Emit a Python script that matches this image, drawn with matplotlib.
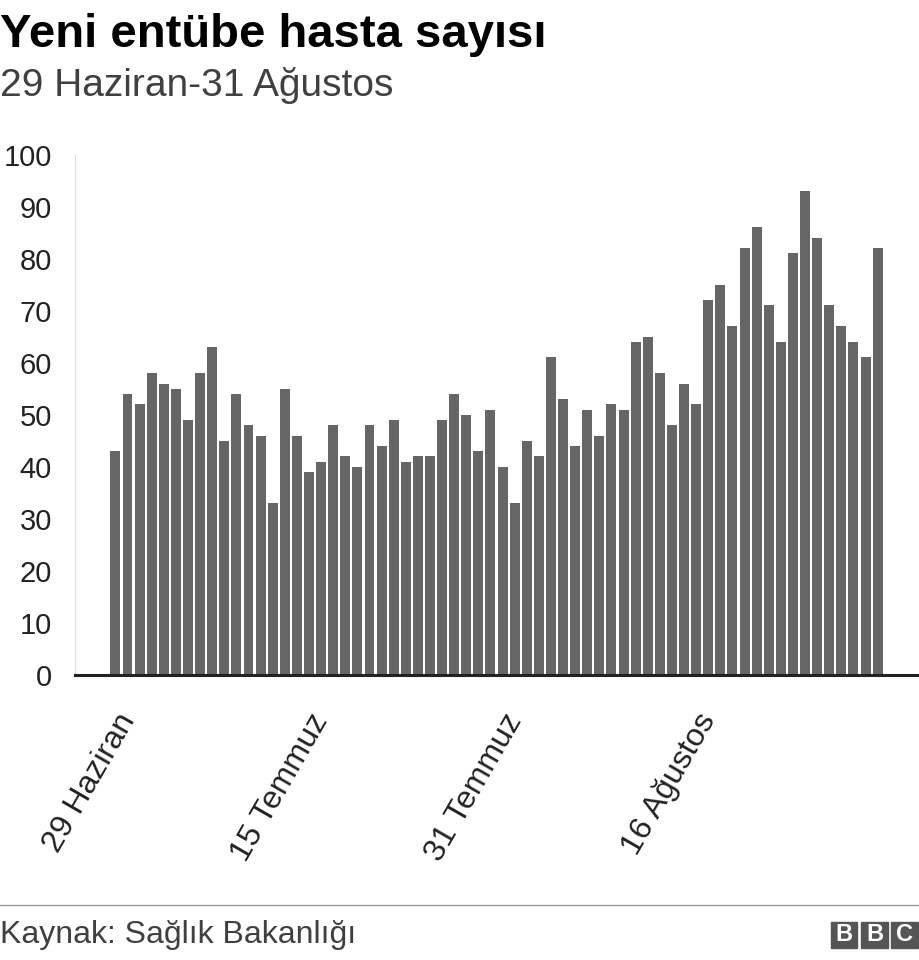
import matplotlib
matplotlib.use("Agg")
import matplotlib.pyplot as plt
from matplotlib.patches import Rectangle

plt.rcParams['font.family'] = ['Liberation Sans', 'DejaVu Sans']

# veriler
values = [43, 54, 52, 58, 56, 55, 49, 58, 63, 45,
          54, 48, 46, 33, 55, 46, 39, 41, 48, 42,
          40, 48, 44, 49, 41, 42, 42, 49, 54, 50,
          43, 51, 40, 33, 45, 42, 61, 53, 44, 51,
          46, 52, 51, 64, 65, 58, 48, 56, 52, 72,
          75, 67, 82, 86, 71, 64, 81, 93, 84, 71,
          67, 64, 61, 82]
tick_pos = [0, 16, 32, 48]
tick_labels = ['29 Haziran', '15 Temmuz', '31 Temmuz', '16 Ağustos']
y_ticks = list(range(0, 101, 10))

fig = plt.figure(figsize=(9.2, 9.6), dpi=100)
ax = fig.add_axes([0.082, 0.297, 0.918, 0.542])
ax.bar(range(len(values)), values, width=0.82, color='#666666')
ax.set_xlim(-3.3, 66.5)
ax.set_ylim(0, 100)
ax.set_yticks(y_ticks)
ax.set_xticks(tick_pos)
ax.set_xticklabels(tick_labels, rotation=60, ha='right', rotation_mode='anchor')
ax.tick_params(axis='both', length=0, colors='#222222')
ax.tick_params(axis='x', labelsize=23, pad=24)
ax.tick_params(axis='y', labelsize=21, pad=17)
for s in ['top', 'right']:
    ax.spines[s].set_visible(False)
ax.spines['left'].set_color('#dddddd')
ax.spines['bottom'].set_linewidth(2.2)
ax.spines['bottom'].set_color('#222222')

fig.text(0.0, 0.986, 'Yeni entübe hasta sayısı', fontsize=34, fontweight='bold', va='top')
fig.text(0.0, 0.930, '29 Haziran-31 Ağustos', fontsize=28, color='#404040', va='top')

fig.add_artist(plt.Line2D([0, 1], [0.057, 0.057], color='#999999', lw=1, transform=fig.transFigure))
fig.text(0.0, 0.026, 'Kaynak: Sağlık Bakanlığı', fontsize=23, color='#404040', va='center')

# BBC logosu
for i, ch in enumerate('BBC'):
    x0 = 0.903 + i * 0.033
    fig.add_artist(Rectangle((x0, 0.013), 0.029, 0.027, color='#555555', transform=fig.transFigure))
    fig.text(x0 + 0.0145, 0.0265, ch, fontsize=17, fontweight='bold', color='white', ha='center', va='center')

fig.savefig('out.png', dpi=100)
